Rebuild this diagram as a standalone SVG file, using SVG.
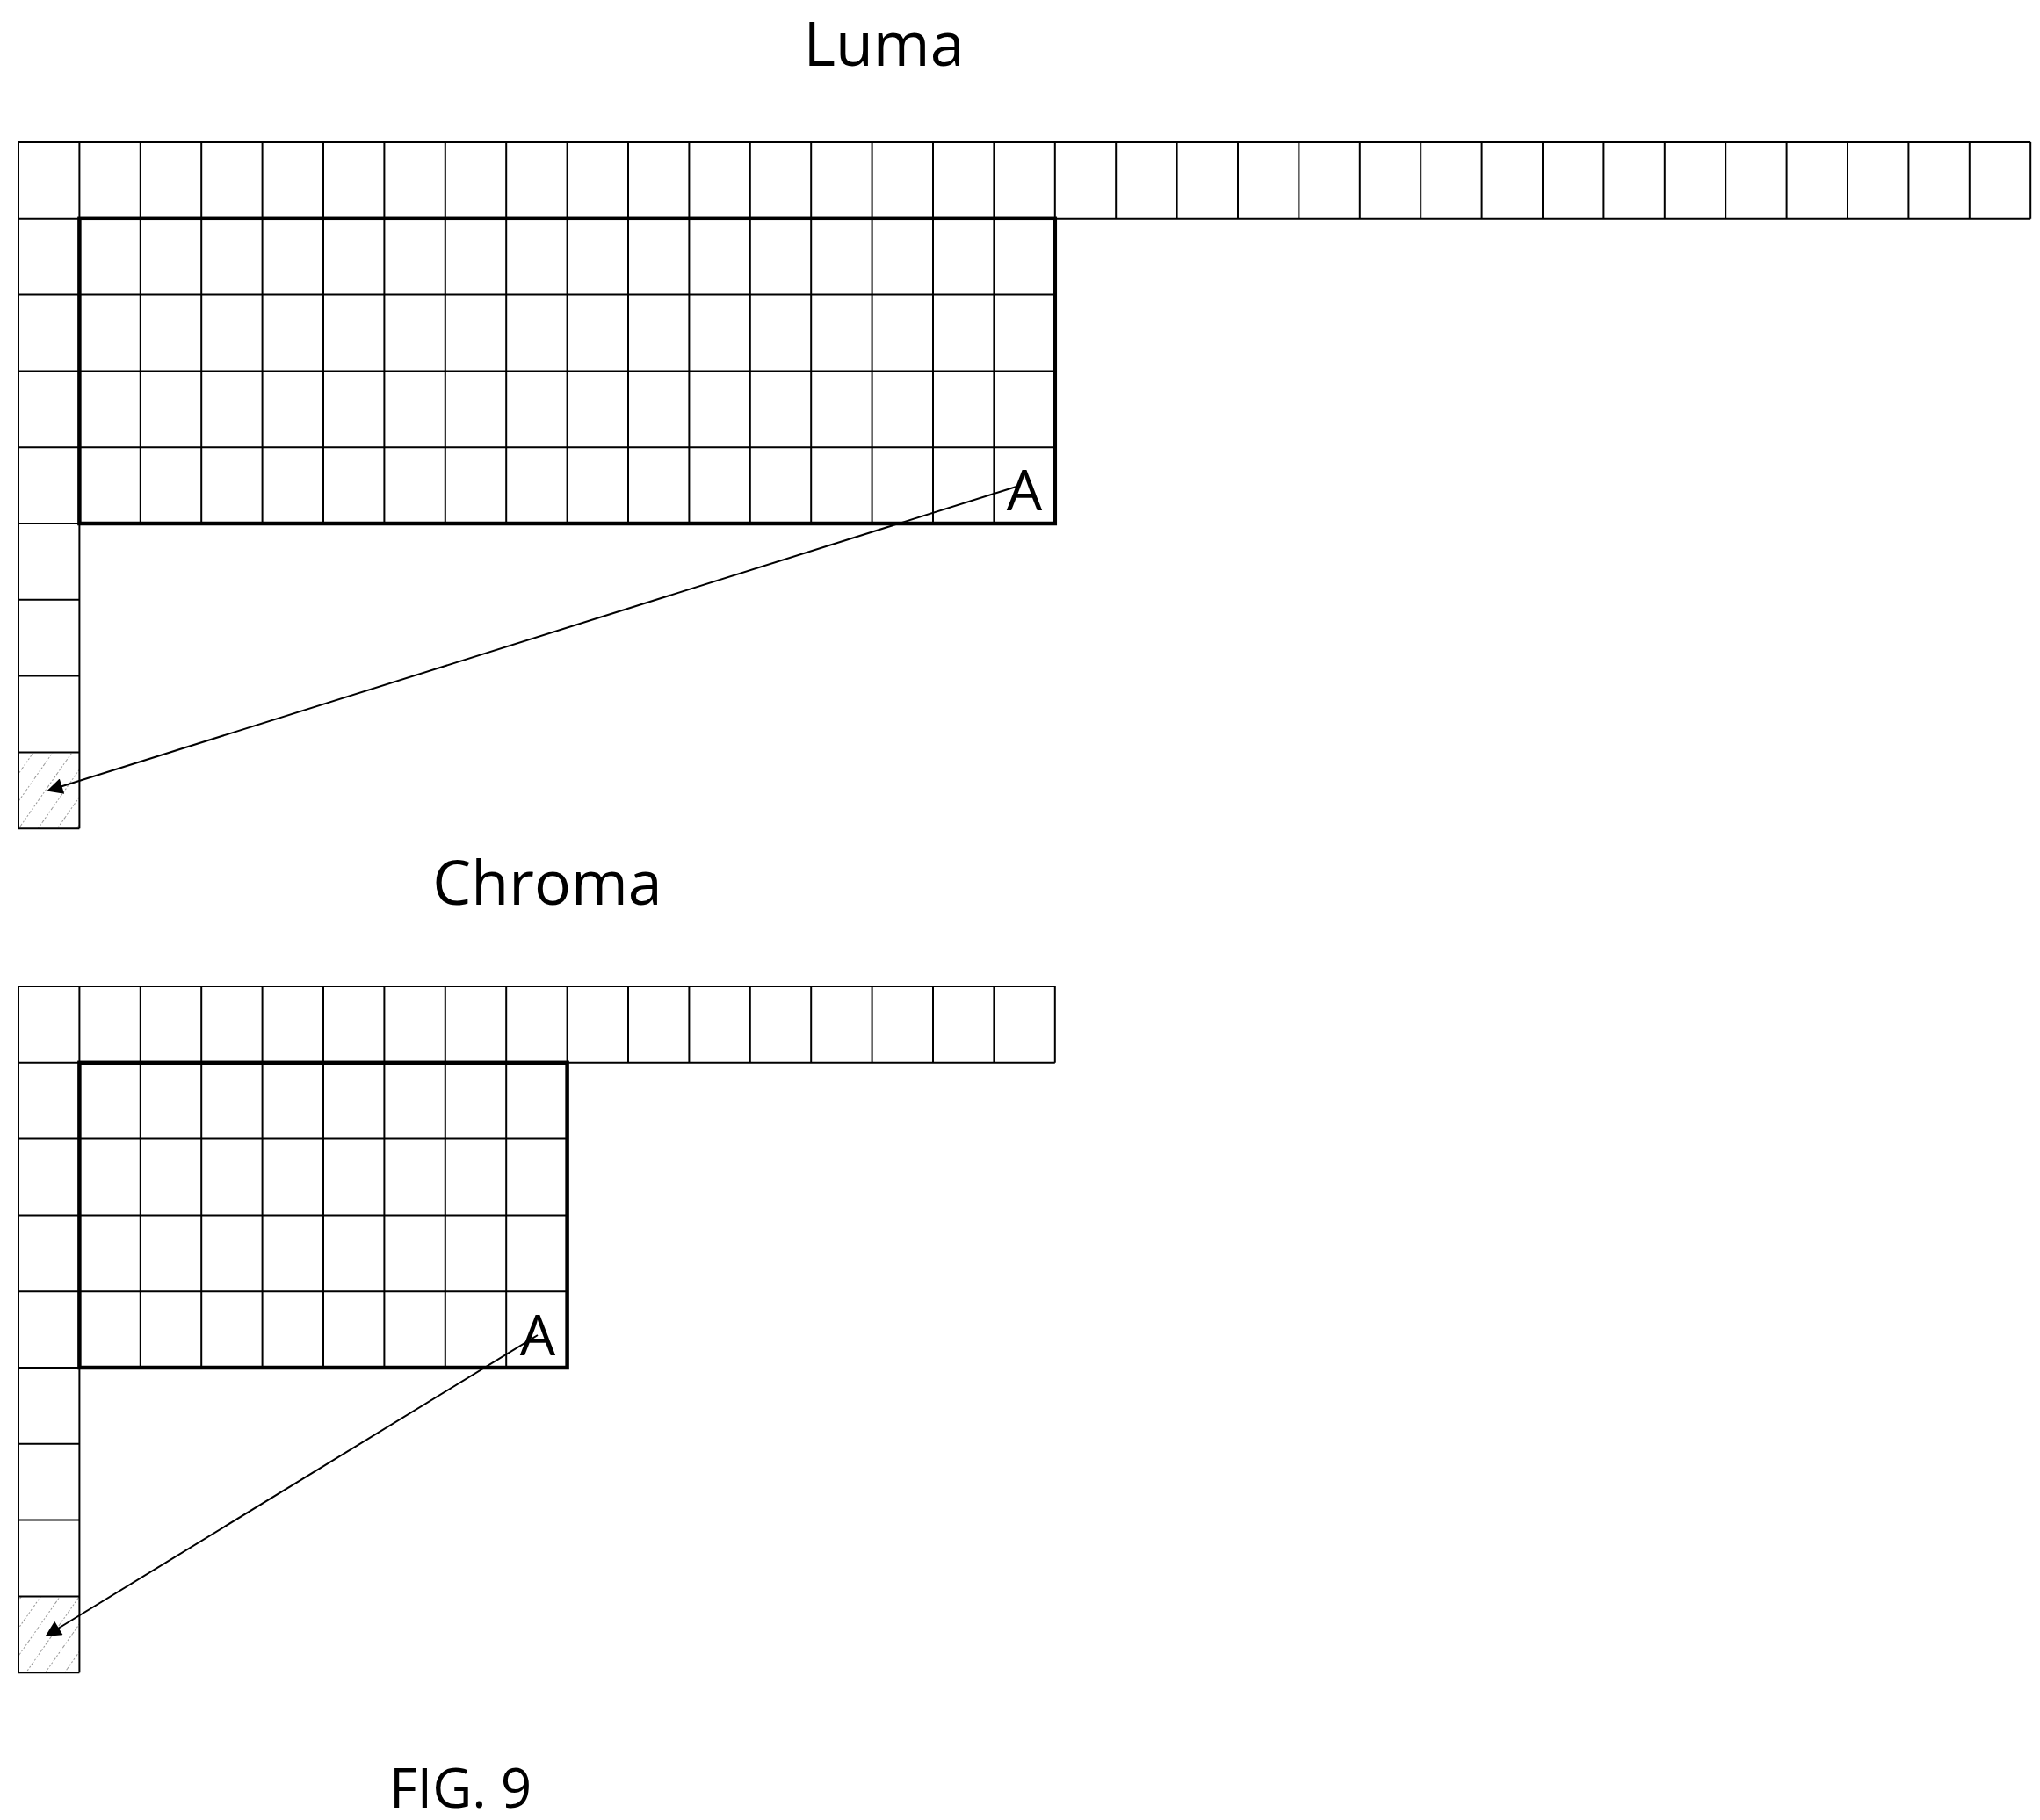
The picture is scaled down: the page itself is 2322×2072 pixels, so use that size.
<svg xmlns="http://www.w3.org/2000/svg" width="2322" height="2072" viewBox="0 0 2322 2072">
<style>
.g{fill:none;stroke:#000;stroke-width:2}
.b{fill:none;stroke:#000;stroke-width:4.5}
.t{font-family:"Open Sans","Liberation Sans",sans-serif;fill:#000;text-anchor:middle}
.c{stroke:#000;stroke-width:2}
</style>
<defs>
<pattern id="h" width="18" height="18" patternUnits="userSpaceOnUse" patternTransform="rotate(35)">
<line x1="0" y1="0" x2="0" y2="18" stroke="#555" stroke-width="1.2" stroke-dasharray="2 2"/>
</pattern>
<marker id="ar" viewBox="0 0 10 10" refX="9" refY="5" markerWidth="10" markerHeight="10" markerUnits="userSpaceOnUse" orient="auto"><path d="M0 0L10 5L0 10z"/></marker>
<marker id="a2" viewBox="0 0 10 10" refX="9" refY="5" markerWidth="22" markerHeight="18" markerUnits="userSpaceOnUse" orient="auto"><path d="M0 0L10 5L0 10z"/></marker>
</defs>
<rect width="2322" height="2072" fill="#fff"/>
<text class="t" x="1006" y="75" font-size="70">Luma</text>
<text class="t" x="623" y="1030" font-size="70">Chroma</text>
<text class="t" x="524" y="2058" font-size="62">FIG. 9</text>
<g id="luma">
<rect x="21" y="856.4" width="69.4" height="86.8" fill="url(#h)"/>
<path class="g" d="M21 162H2311.2M21 248.8H2311.2M21 335.6H1200.8M21 422.4H1200.8M21 509.2H1200.8M21 596H90.4M21 682.8H90.4M21 769.6H90.4M21 856.4H90.4M21 943.2H90.4
M21 162V943.2M90.4 162V943.2
M159.8 162V596M229.2 162V596M298.6 162V596M368 162V596M437.4 162V596M506.8 162V596M576.2 162V596M645.6 162V596M715 162V596M784.4 162V596M853.8 162V596M923.2 162V596M992.6 162V596M1062 162V596M1131.4 162V596M1200.8 162V596
M1270.2 162V248.8M1339.6 162V248.8M1409 162V248.8M1478.4 162V248.8M1547.8 162V248.8M1617.2 162V248.8M1686.6 162V248.8M1756 162V248.8M1825.4 162V248.8M1894.8 162V248.8M1964.2 162V248.8M2033.6 162V248.8M2103 162V248.8M2172.4 162V248.8M2241.8 162V248.8M2311.2 162V248.8"/>
<rect class="b" x="90.4" y="248.8" width="1110.4" height="347.2"/>
<text class="t" x="1166" y="581" font-size="64">A</text>
</g>
<g id="chroma">
<rect x="21" y="1817.4" width="69.4" height="86.8" fill="url(#h)"/>
<path class="g" d="M21 1123H1200.8M21 1209.8H1200.8M21 1296.6H645.6M21 1383.4H645.6M21 1470.2H645.6M21 1557H90.4M21 1643.8H90.4M21 1730.6H90.4M21 1817.4H90.4M21 1904.2H90.4
M21 1123V1904.2M90.4 1123V1904.2
M159.8 1123V1557M229.2 1123V1557M298.6 1123V1557M368 1123V1557M437.4 1123V1557M506.8 1123V1557M576.2 1123V1557M645.6 1123V1557
M715 1123V1209.8M784.4 1123V1209.8M853.8 1123V1209.8M923.2 1123V1209.8M992.6 1123V1209.8M1062 1123V1209.8M1131.4 1123V1209.8M1200.8 1123V1209.8"/>
<rect class="b" x="90.4" y="1209.8" width="555.2" height="347.2"/>
<text class="t" x="612" y="1543" font-size="64">A</text>
</g>
<g id="connectors">
<line class="c" x1="1160" y1="553" x2="55" y2="900" marker-end="url(#a2)"/>
<line class="c" x1="612" y1="1520" x2="53" y2="1862" marker-end="url(#a2)"/>
</g>
</svg>
